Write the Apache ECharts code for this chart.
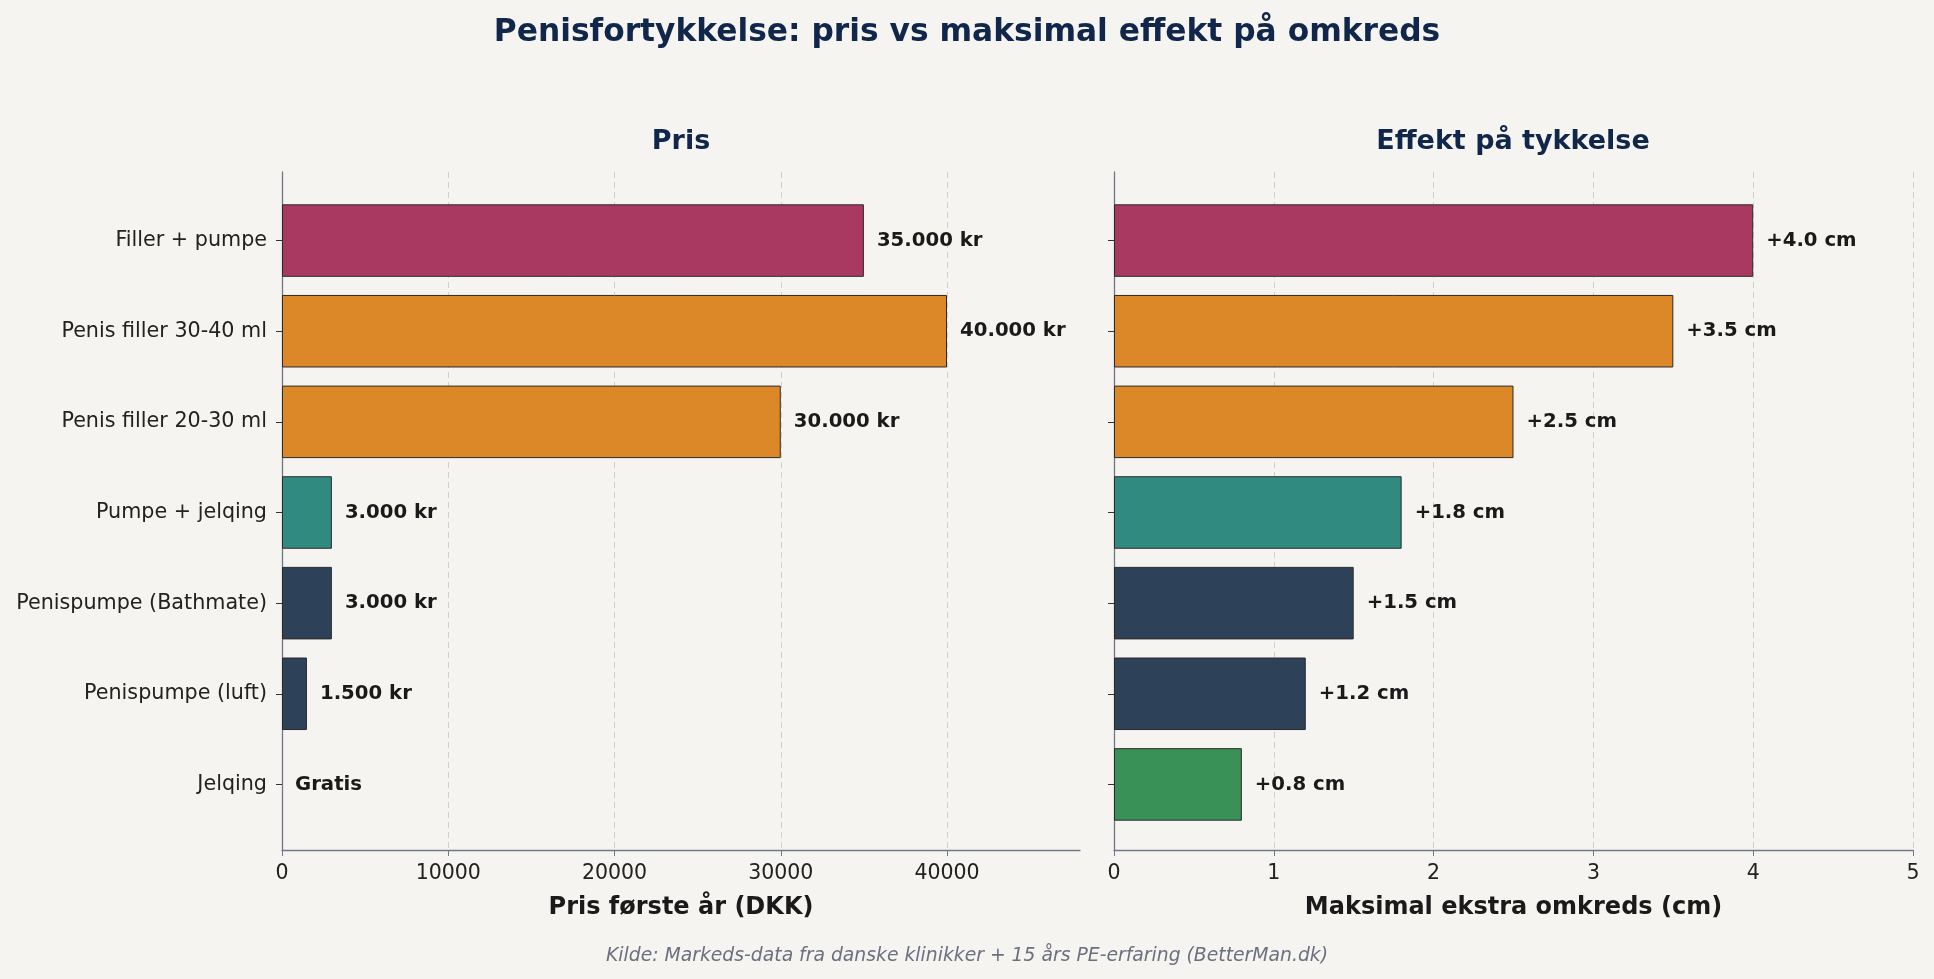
<!DOCTYPE html>
<html>
<head>
<meta charset="utf-8">
<script src="https://cdn.jsdelivr.net/npm/echarts@6/dist/echarts.min.js"></script>
<style>
html, body { margin: 0; padding: 0; background: #f5f4f0; }
#main { width: 1934px; height: 979px; }
</style>
</head>
<body>
<div id="main"></div>
<script>
// data (top to bottom, as in the picture)
var methods = ['Filler + pumpe', 'Penis filler 30-40 ml', 'Penis filler 20-30 ml', 'Pumpe + jelqing',
               'Penispumpe (Bathmate)', 'Penispumpe (luft)', 'Jelqing'];
var prices = [35000, 40000, 30000, 3000, 3000, 1500, 0];
var gains = [4.0, 3.5, 2.5, 1.8, 1.5, 1.2, 0.8];
var priceTicks = { min: 0, max: 48000, step: 10000 };
var gainTicks = { min: 0, max: 5, step: 1 };
var barColors = ['#aa3961', '#dc8829', '#dc8829', '#318a80', '#2d4259', '#2d4259', '#3a9158'];

var FONT = 'DejaVu Sans';
var spineColor = '#737886';

function kr(v) {
    if (v === 0) return 'Gratis';
    return String(v).replace(/\B(?=(\d{3})+(?!\d))/g, '.') + ' kr';
}

function barData(values) {
    return values.map(function (v, i) {
        return {
            value: v,
            itemStyle: { color: barColors[i], borderColor: '#2a2a2a', borderWidth: v === 0 ? 0 : 1 }
        };
    });
}

// frame axis = the visible x axis with grid lines, spans whole panel
function frameX(idx, t, name, showMax) {
    return {
        gridIndex: idx, type: 'value', min: t.min, max: t.max, interval: t.step,
        name: name, nameLocation: 'middle', nameGap: 46,
        nameTextStyle: { fontFamily: FONT, fontSize: 24, fontWeight: 'bold', color: '#1a1a1a' },
        axisLine: { show: true, lineStyle: { color: spineColor, width: 1.3 } },
        axisTick: { show: true, length: 6, lineStyle: { color: spineColor } },
        axisLabel: { fontFamily: FONT, fontSize: 20.5, color: '#222', margin: 13, showMaxLabel: showMax,
                     formatter: function (v) { return String(v); } },
        splitLine: { show: true, showMinLine: false, showMaxLine: showMax,
                     lineStyle: { color: '#cfcfcf', type: [6, 4], width: 1 } }
    };
}
function hiddenX(idx, t) {
    return { gridIndex: idx, type: 'value', min: t.min, max: t.max, show: false };
}
function frameY(idx) {
    return {
        gridIndex: idx, type: 'value', min: 0, max: 1,
        axisLine: { show: true, lineStyle: { color: spineColor, width: 1.3 } },
        axisTick: { show: false }, axisLabel: { show: false }, splitLine: { show: false }
    };
}
function catY(idx, showLabels) {
    return {
        gridIndex: idx, type: 'category', data: methods, inverse: true,
        axisLine: { show: false },
        axisTick: { show: true, alignWithLabel: true, length: 6, lineStyle: { color: '#333' } },
        axisLabel: { show: showLabels, fontFamily: FONT, fontSize: 20.7, color: '#222', margin: 15 },
        splitLine: { show: false }
    };
}

var myChart = echarts.init(document.getElementById('main'));

option = {
    backgroundColor: '#f5f4f0',
    animation: false,
    title: [
        { text: 'Penisfortykkelse: pris vs maksimal effekt på omkreds', left: 967, top: 17, textAlign: 'center', padding: 0,
          textStyle: { fontFamily: FONT, fontSize: 31.3, fontWeight: 'bold', color: '#10264a' } },
        { text: 'Pris', left: 681, top: 128, textAlign: 'center', padding: 0,
          textStyle: { fontFamily: FONT, fontSize: 27, fontWeight: 'bold', color: '#10264a' } },
        { text: 'Effekt på tykkelse', left: 1513, top: 128, textAlign: 'center', padding: 0,
          textStyle: { fontFamily: FONT, fontSize: 27, fontWeight: 'bold', color: '#10264a' } },
        { text: 'Kilde: Markeds-data fra danske klinikker + 15 års PE-erfaring (BetterMan.dk)', left: 967, top: 947,
          textAlign: 'center', padding: 0,
          textStyle: { fontFamily: FONT, fontSize: 18.8, fontStyle: 'italic', fontWeight: 'normal', color: '#6b7080' } }
    ],
    grid: [
        { left: 282, right: 854, top: 172, bottom: 129 },
        { left: 282, right: 854, top: 195.25, bottom: 149.25 },
        { left: 1114, right: 21, top: 172, bottom: 129 },
        { left: 1114, right: 21, top: 195.25, bottom: 149.25 }
    ],
    xAxis: [
        frameX(0, priceTicks, 'Pris første år (DKK)', false),
        hiddenX(1, priceTicks),
        frameX(2, gainTicks, 'Maksimal ekstra omkreds (cm)', true),
        hiddenX(3, gainTicks)
    ],
    yAxis: [frameY(0), catY(1, true), frameY(2), catY(3, false)],
    series: [
        {
            type: 'bar', xAxisIndex: 1, yAxisIndex: 1,
            data: barData(prices), barWidth: '80%',
            label: {
                show: true, position: 'right', distance: 13,
                fontFamily: FONT, fontSize: 19.7, fontWeight: 'bold', color: '#1a1a1a',
                formatter: function (p) { return kr(p.value); }
            }
        },
        {
            type: 'bar', xAxisIndex: 3, yAxisIndex: 3,
            data: barData(gains), barWidth: '80%',
            label: {
                show: true, position: 'right', distance: 13,
                fontFamily: FONT, fontSize: 19.7, fontWeight: 'bold', color: '#1a1a1a',
                formatter: function (p) { return '+' + p.value.toFixed(1) + ' cm'; }
            }
        }
    ]
};

myChart.setOption(option);
window.addEventListener("resize", function () {
    myChart.resize();
});
</script>
</body>
</html>
